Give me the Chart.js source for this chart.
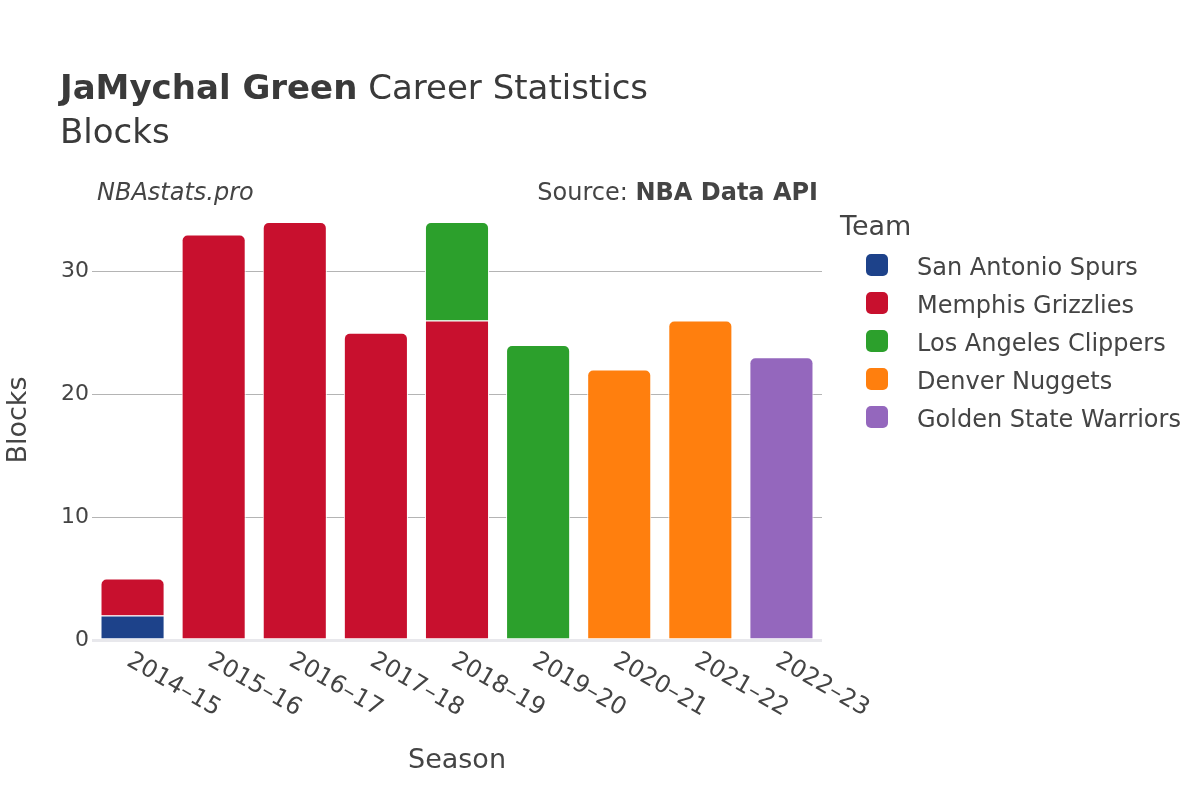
<!DOCTYPE html>
<html>
<head>
<meta charset="utf-8">
<script src="https://cdn.jsdelivr.net/npm/chart.js@4.4.0/dist/chart.umd.min.js"></script>
<style>
  body { margin: 0; background: #fff; font-family: 'DejaVu Sans', sans-serif; color: #444; }
  #wrap { position: relative; width: 1200px; height: 800px; }
  canvas { position: absolute; left: 0; top: 0; }
  .txt { position: absolute; white-space: nowrap; line-height: 1; }
  .legend-item { position: absolute; left: 866px; height: 24px; }
  .swatch { position: absolute; left: 0; top: 1px; width: 22px; height: 22px; border-radius: 5px; }
  .legend-label { position: absolute; left: 51px; top: 0; font-size: 24px; white-space: nowrap; color: #444; }
</style>
</head>
<body>
<div id="wrap">
  <canvas id="chart" width="1200" height="800"></canvas>
  <div class="txt" style="left:60px;top:70px;font-size:34px;color:#3a3a3a;"><b>JaMychal Green</b> Career Statistics</div>
  <div class="txt" style="left:60px;top:114px;font-size:34px;color:#3a3a3a;">Blocks</div>
  <div class="txt" style="left:97px;top:180px;font-size:24px;font-style:italic;">NBAstats.pro</div>
  <div class="txt" style="right:382px;top:180px;font-size:24px;">Source: <b>NBA Data API</b></div>
  <div class="txt" style="left:840px;top:212px;font-size:27px;">Team</div>
  <div id="legend"></div>
</div>
<script>
// seasons on the x axis
const seasons = ['2014–15', '2015–16', '2016–17', '2017–18', '2018–19', '2019–20', '2020–21', '2021–22', '2022–23'];

// blocks per team and season (null = did not play there)
const spursBlocks     = [2, null, null, null, null, null, null, null, null];
const grizzliesBlocks = [3, 33, 34, 25, 26, null, null, null, null];
const clippersBlocks  = [null, null, null, null, 8, 24, null, null, null];
const nuggetsBlocks   = [null, null, null, null, null, null, 22, 26, null];
const warriorsBlocks  = [null, null, null, null, null, null, null, null, 23];

const teams = ['San Antonio Spurs', 'Memphis Grizzlies', 'Los Angeles Clippers', 'Denver Nuggets', 'Golden State Warriors'];
const teamColors = ['#1d428a', '#c8102e', '#2ca02c', '#ff7f0e', '#9467bd'];
const yTicks = [0, 10, 20, 30];

const allSeries = [spursBlocks, grizzliesBlocks, clippersBlocks, nuggetsBlocks, warriorsBlocks];

// round only the top of each stack
function topRadius(ctx) {
    if (ctx.type !== 'data') return 0;
    let top = -1;
    allSeries.forEach((arr, k) => { if (arr[ctx.dataIndex] != null) top = k; });
    return ctx.datasetIndex === top ? { topLeft: 6, topRight: 6, bottomLeft: 0, bottomRight: 0 } : 0;
}

// legend in html
const legend = document.getElementById('legend');
teams.forEach((name, i) => {
    const item = document.createElement('div');
    item.className = 'legend-item';
    item.style.top = (253 + i * 38) + 'px';
    item.innerHTML = '<span class="swatch" style="background:' + teamColors[i] + '"></span>' +
        '<span class="legend-label">' + name + '</span>';
    legend.appendChild(item);
});

// rotated season labels + x axis title
const seasonLabels = {
    id: 'seasonLabels',
    afterDraw(chart) {
        const { ctx, chartArea } = chart;
        const x = chart.scales.x;
        ctx.save();
        ctx.fillStyle = '#444';
        ctx.font = '24px "DejaVu Sans"';
        ctx.textAlign = 'left';
        ctx.textBaseline = 'middle';
        seasons.forEach((s, i) => {
            ctx.save();
            ctx.translate(x.getPixelForValue(i) - 4, chartArea.bottom + 19);
            ctx.rotate(Math.PI / 6);
            ctx.fillText(s, 0, 0);
            ctx.restore();
        });
        ctx.font = '27px "DejaVu Sans"';
        ctx.textAlign = 'center';
        ctx.fillText('Season', (chartArea.left + chartArea.right) / 2, 761);
        ctx.restore();
    }
};

const datasets = teams.map((name, i) => ({
    label: name,
    data: allSeries[i],
    backgroundColor: teamColors[i],
    borderColor: '#ffffff',
    borderWidth: 1,
    borderSkipped: 'start',
    borderRadius: topRadius,
    barPercentage: 0.79,
    categoryPercentage: 1.0,
}));

new Chart(document.getElementById('chart'), {
    type: 'bar',
    data: { labels: seasons, datasets: datasets },
    options: {
        responsive: false,
        animation: false,
        layout: { padding: { left: 0, top: 200, right: 378, bottom: 160 } },
        plugins: {
            legend: { display: false },
            tooltip: { enabled: false },
        },
        scales: {
            x: {
                stacked: true,
                display: false,
            },
            y: {
                stacked: true,
                min: 0,
                max: 35.8,
                afterBuildTicks: (scale) => { scale.ticks = yTicks.map(v => ({ value: v })); },
                afterFit: (scale) => { scale.width = 92; },
                border: { display: false },
                grid: {
                    drawTicks: false,
                    color: (c) => c.tick && c.tick.value === 0 ? '#e8e8ec' : '#b4b4b4',
                    lineWidth: (c) => c.tick && c.tick.value === 0 ? 3 : 1,
                },
                ticks: {
                    padding: 3,
                    color: '#444',
                    font: { family: 'DejaVu Sans', size: 22 },
                },
                title: {
                    display: true,
                    text: 'Blocks',
                    color: '#444',
                    padding: { top: 3, bottom: 0 },
                    font: { family: 'DejaVu Sans', size: 27 },
                },
            },
        },
    },
    plugins: [seasonLabels],
});
</script>
</body>
</html>
